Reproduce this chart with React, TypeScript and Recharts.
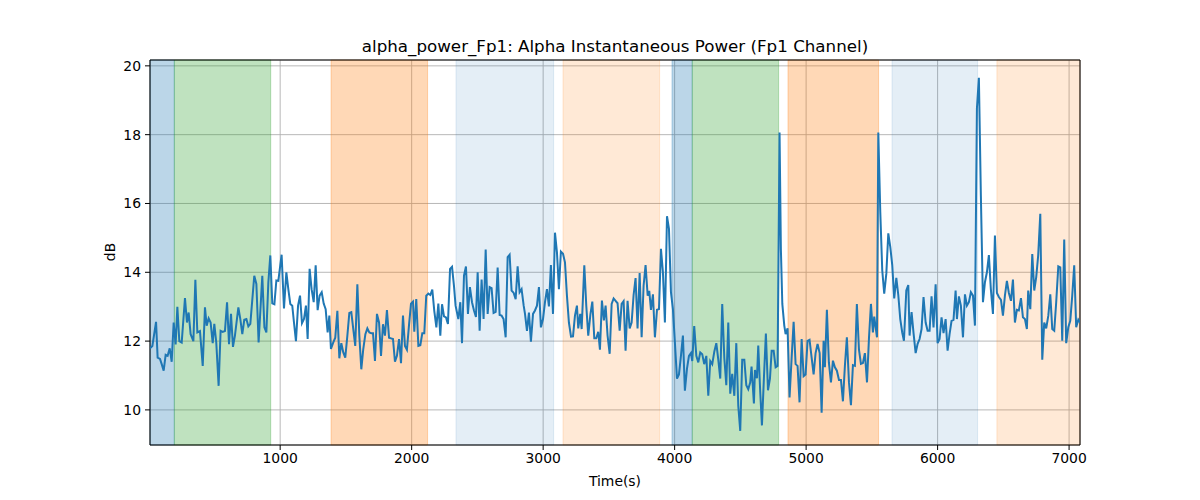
import { LineChart, Line, XAxis, YAxis, CartesianGrid, ReferenceArea } from "recharts";

// sample times (s) and alpha power (dB)
const timeSec = [
  10, 28, 56, 68, 86, 99, 114, 129, 144, 160,
  175, 190, 205, 218, 233, 251, 276, 291, 304, 319,
  340, 355, 370, 390, 411, 428, 441, 456, 471, 487,
  499, 514, 532, 547, 563, 580, 596, 611, 626, 641,
  656, 682, 697, 712, 727, 743, 758, 773, 803, 819,
  836, 864, 880, 895, 910, 925, 940, 956, 971, 986,
  1011, 1029, 1047, 1062, 1077, 1092, 1105, 1120, 1136, 1151,
  1166, 1181,
  1196, 1209, 1224, 1239, 1255, 1270, 1285, 1300, 1316, 1331,
  1346, 1361, 1374, 1386, 1404, 1419, 1435, 1450, 1465, 1480,
  1495, 1511, 1526, 1541, 1556, 1571, 1587, 1602, 1617, 1632,
  1648, 1663, 1678, 1693, 1706, 1721, 1736, 1752, 1767, 1782,
  1797, 1812, 1828, 1843, 1858, 1873, 1888, 1904, 1919, 1934,
  1949, 1964, 1980, 1995, 2010, 2020, 2035, 2051, 2066, 2081,
  2096, 2111, 2127, 2142, 2157, 2172, 2188, 2203, 2218, 2231,
  2246, 2261, 2276, 2292, 2307, 2322,
  2334, 2355, 2370, 2383, 2398, 2413, 2428, 2443, 2459, 2474,
  2489, 2502, 2517, 2532, 2547, 2563, 2578, 2593, 2608, 2623,
  2639, 2654, 2669, 2684, 2699, 2715, 2730, 2745, 2760, 2776,
  2791, 2806, 2821, 2836, 2852, 2862, 2877, 2892, 2907, 2923,
  2938, 2953, 2968, 2983, 2999, 3014, 3029, 3044, 3059, 3075,
  3090, 3105, 3120, 3135, 3151, 3166, 3181, 3196, 3212, 3227,
  3242, 3257, 3267, 3282, 3293, 3313, 3328, 3343, 3359, 3374,
  3389, 3404, 3419, 3432, 3447, 3462,
  3475, 3490, 3506, 3521, 3536, 3551, 3566, 3582, 3597, 3612,
  3627, 3642, 3658, 3673, 3688, 3703, 3718, 3734, 3749, 3764,
  3779, 3795, 3807, 3820, 3835, 3850, 3866, 3881, 3896, 3911,
  3926, 3942, 3957, 3972, 3987, 4002, 4018, 4033, 4048, 4063,
  4078, 4094, 4109, 4124, 4134, 4149, 4165, 4180, 4195, 4210,
  4225, 4241, 4256, 4271, 4286, 4302, 4317, 4332, 4347, 4362,
  4378, 4393, 4408, 4423, 4438, 4454, 4469, 4484, 4499, 4514,
  4530, 4545, 4560, 4575, 4585, 4603,
  4611, 4626, 4636, 4651, 4664, 4679, 4694, 4710, 4725, 4738,
  4753, 4768, 4783, 4798, 4808, 4819, 4834, 4844, 4859, 4874,
  4890, 4905, 4920, 4935, 4950, 4966, 4981, 4996, 5011, 5026,
  5042, 5057, 5072, 5087, 5103, 5118, 5133, 5143, 5158, 5173,
  5189, 5204, 5219, 5234, 5250, 5265, 5280, 5295, 5310, 5326,
  5341, 5356, 5371, 5386, 5402, 5417, 5432, 5447, 5463, 5478,
  5493, 5508, 5518, 5539, 5549, 5564, 5579, 5594, 5610, 5625,
  5640, 5655, 5670, 5686, 5701, 5716, 5731, 5744,
  5762, 5777, 5787, 5802, 5817, 5833, 5848, 5863, 5878, 5893,
  5909, 5924, 5939, 5954, 5969, 5985, 6000, 6015, 6030, 6045,
  6061, 6076, 6091, 6106, 6121, 6137, 6147, 6162, 6177, 6193,
  6208, 6223, 6238, 6253, 6269, 6284, 6299, 6314, 6329, 6345,
  6360, 6375, 6390, 6405, 6421, 6436, 6451, 6466, 6482, 6497,
  6512, 6527, 6542, 6558, 6573, 6588, 6603, 6618, 6634, 6649,
  6664, 6679, 6689, 6705, 6720, 6735, 6750, 6765, 6781, 6796,
  6811, 6826, 6842, 6857, 6872, 6887, 6902, 6918, 6933, 6948,
  6963, 6978, 6994, 7009, 7024, 7039, 7054, 7070, 7083,
];

const alphaDb = [
  11.79, 11.86, 12.56, 11.52, 11.48, 11.33, 11.14, 11.6, 11.57, 11.79,
  11.4, 12.54, 11.9, 13.0, 12.0, 11.96, 13.25, 12.54, 12.83, 12.2,
  12.0, 13.78, 12.25, 12.29, 11.28, 12.98, 12.45, 12.66, 12.54, 11.94,
  12.5, 11.96, 10.7, 12.3, 12.27, 12.29, 13.13, 11.91, 12.79, 11.83,
  12.16, 12.98, 12.64, 12.2, 12.62, 12.64, 12.43, 12.5, 13.9, 13.66,
  11.96, 13.9, 12.4, 12.25, 13.7, 14.49, 13.1, 13.07, 13.76, 13.75,
  14.51, 12.95, 14.0, 13.51, 13.08, 13.03, 12.54, 12.0, 13.03, 13.32,
  12.52, 12.64,
  13.03, 12.06, 14.1, 13.51, 13.13, 14.2, 12.9, 13.32, 13.42, 13.09,
  12.93, 12.25, 12.74, 11.77, 11.96, 12.1, 12.88, 11.5, 11.94, 11.67,
  11.52, 12.16, 12.82, 12.84, 12.35, 11.86, 13.65, 12.16, 11.18, 11.77,
  12.2, 12.37, 12.25, 12.23, 12.23, 11.42, 12.79, 12.54, 11.57, 12.49,
  12.16, 12.9, 12.1, 12.08, 12.06, 11.4, 11.57, 12.06, 11.36, 12.74,
  11.86, 11.75, 12.47, 13.09, 13.15, 12.27, 13.22, 11.86, 11.88, 12.23,
  12.23, 13.32, 13.38, 13.34, 13.5, 12.88, 12.4, 13.09, 12.16, 13.07,
  12.72, 12.69, 12.5, 14.1, 14.16, 13.6,
  13.03, 12.64, 13.13, 11.94, 13.9, 14.17, 12.79, 13.57, 13.13, 12.89,
  12.7, 14.0, 12.3, 13.79, 12.64, 14.66, 12.79, 13.57, 13.54, 12.82,
  12.85, 14.14, 12.76, 12.74, 12.64, 12.11, 14.44, 14.51, 13.47, 13.4,
  13.22, 14.17, 13.42, 13.51, 13.03, 12.79, 12.3, 12.83, 11.98, 12.79,
  12.89, 13.03, 13.57, 12.4, 12.64, 13.13, 13.51, 13.01, 14.21, 12.79,
  15.15, 14.58, 13.51, 14.6, 14.54, 14.29, 13.32, 12.54, 12.13, 12.14,
  12.74, 13.03, 12.37, 12.79, 12.35, 14.2, 13.03, 12.16, 12.76, 13.15,
  12.08, 12.08, 12.27, 11.75, 13.18, 12.6,
  13.03, 12.16, 11.63, 13.08, 13.24, 13.17, 13.1, 12.3, 13.08, 13.16,
  11.72, 13.17, 12.37, 12.54, 13.34, 13.83, 12.37, 13.98, 12.11, 13.61,
  14.21, 13.32, 13.46, 12.91, 13.36, 12.11, 12.91, 12.93, 14.68, 14.0,
  12.54, 15.63, 15.26, 13.42, 12.93, 11.96, 10.91, 11.03, 11.57, 12.16,
  10.56, 11.2, 11.57, 11.65, 11.42, 12.44, 11.57, 11.38, 11.67, 11.62,
  11.33, 11.57, 10.41, 11.42, 11.33, 11.7, 11.94, 11.46, 10.91, 13.08,
  11.5, 10.72, 12.54, 10.47, 11.05, 10.41, 11.94, 10.12, 9.39, 11.46,
  11.46, 10.72, 10.6, 10.8, 11.26, 10.19,
  11.16, 10.92, 11.87, 10.52, 9.55, 10.92, 12.22, 10.57, 10.91, 11.72,
  11.72, 11.24, 11.28, 18.06, 14.68, 13.08, 12.45, 12.2, 12.37, 10.36,
  11.52, 12.56, 11.33, 11.28, 10.22, 12.06, 10.98, 11.03, 12.01, 12.04,
  11.52, 11.03, 11.65, 11.92, 11.65, 9.92, 12.01, 11.24, 12.91, 11.38,
  10.8, 11.43, 11.24, 11.14, 10.87, 10.87, 10.25, 11.28, 12.11, 10.8,
  10.14, 11.3, 11.28, 13.08, 11.75, 11.34, 11.36, 11.65, 10.8, 12.08,
  13.08, 12.25, 12.71, 12.11, 18.06, 15.76, 14.06, 13.38, 13.96, 15.13,
  14.74, 14.21, 13.24, 13.84, 13.34, 12.64, 12.25, 12.01,
  13.47, 13.63, 12.16, 12.84, 12.23, 11.65, 11.92, 12.06, 12.35, 13.28,
  12.54, 12.3, 12.3, 13.3, 12.4, 13.65, 11.94, 12.06, 12.69, 12.23,
  12.64, 11.72, 12.2, 12.59, 12.62, 13.47, 12.64, 13.3, 13.03, 12.11,
  13.36, 13.03, 13.13, 13.42, 13.32, 12.45, 18.76, 19.65, 16.23, 13.13,
  13.71, 14.0, 14.5, 13.51, 12.79, 15.07, 13.4, 13.28, 13.2, 12.74,
  13.32, 13.75, 13.4, 13.17, 13.79, 12.54, 12.91, 12.89, 13.25, 12.69,
  12.64, 12.35, 13.47, 12.93, 14.53, 13.47, 13.86, 14.49, 15.7, 11.46,
  12.54, 12.37, 12.74, 13.36, 12.35, 12.3, 13.13, 14.17, 14.14, 12.01,
  14.95, 11.94, 12.4, 12.59, 13.32, 14.2, 12.4, 12.62, 12.54,
];

// shaded condition windows
const bandStart = [10, 195, 1387, 2337, 3151, 3980, 4134, 4862, 5653, 6451];
const bandEnd = [195, 928, 2121, 3080, 3886, 4134, 4791, 5551, 6304, 7083];
const bandKind = ["blue", "green", "orange", "paleBlue", "paleOrange", "blue", "green", "orange", "paleBlue", "paleOrange"];

const xTicks = [1000, 2000, 3000, 4000, 5000, 6000, 7000];
const yTicks = [10, 12, 14, 16, 18, 20];

const X_DOMAIN: [number, number] = [10, 7083];
const Y_DOMAIN: [number, number] = [8.98, 20.17];

const BAND_STYLE: Record<string, { color: string; alpha: number }> = {
  blue: { color: "#1f77b4", alpha: 0.3 },
  green: { color: "#2ca02c", alpha: 0.3 },
  orange: { color: "#ff7f0e", alpha: 0.3 },
  paleBlue: { color: "#1f77b4", alpha: 0.12 },
  paleOrange: { color: "#ff7f0e", alpha: 0.17 },
};

const data = timeSec.map((t, i) => ({ t, db: alphaDb[i] }));

const FONT = "'DejaVu Sans', sans-serif";
const tickStyle = { fontSize: 13.9, fill: "#000", fontFamily: FONT };

export default function App() {
  return (
    <div style={{ position: "absolute", left: 0, top: 0, width: 1200, height: 500, background: "#fff", fontFamily: FONT }}>
      <LineChart width={1200} height={500} data={data} margin={{ top: 60, right: 120, bottom: 25, left: 90 }}>
        <CartesianGrid stroke="#b0b0b0" strokeWidth={0.9} horizontalPoints={undefined} />
        <XAxis
          dataKey="t"
          type="number"
          domain={X_DOMAIN}
          allowDataOverflow
          ticks={xTicks}
          tick={tickStyle}
          tickSize={5}
          tickMargin={3}
          axisLine={false}
          tickLine={{ stroke: "#000" }}
          height={30}
        />
        <YAxis
          type="number"
          domain={Y_DOMAIN}
          allowDataOverflow
          ticks={yTicks}
          tick={tickStyle}
          tickSize={5}
          tickMargin={4}
          axisLine={false}
          tickLine={{ stroke: "#000" }}
          width={60}
        />
        {bandStart.map((s, i) => {
          const st = BAND_STYLE[bandKind[i]];
          return (
            <ReferenceArea
              key={i}
              x1={s}
              x2={bandEnd[i]}
              y1={Y_DOMAIN[0]}
              y2={Y_DOMAIN[1]}
              fill={st.color}
              fillOpacity={st.alpha}
              stroke={st.color}
              strokeOpacity={st.alpha}
              strokeWidth={1}
            />
          );
        })}
        <Line
          type="linear"
          dataKey="db"
          stroke="#1f77b4"
          strokeWidth={2}
          dot={false}
          isAnimationActive={false}
        />
        <ReferenceArea
          x1={X_DOMAIN[0]}
          x2={X_DOMAIN[1]}
          y1={Y_DOMAIN[0]}
          y2={Y_DOMAIN[1]}
          fill="none"
          stroke="#000"
          strokeWidth={1}
        />
      </LineChart>
      <div style={{ position: "absolute", left: 150, width: 930, top: 36, lineHeight: "20px", textAlign: "center", fontSize: 16.7 }}>
        alpha_power_Fp1: Alpha Instantaneous Power (Fp1 Channel)
      </div>
      <div style={{ position: "absolute", left: 150, width: 930, top: 472, lineHeight: "18px", textAlign: "center", fontSize: 13.9 }}>
        Time(s)
      </div>
      <div style={{ position: "absolute", left: 110, top: 252, fontSize: 13.9, lineHeight: "18px", transform: "translate(-50%, -50%) rotate(-90deg)" }}>
        dB
      </div>
    </div>
  );
}
